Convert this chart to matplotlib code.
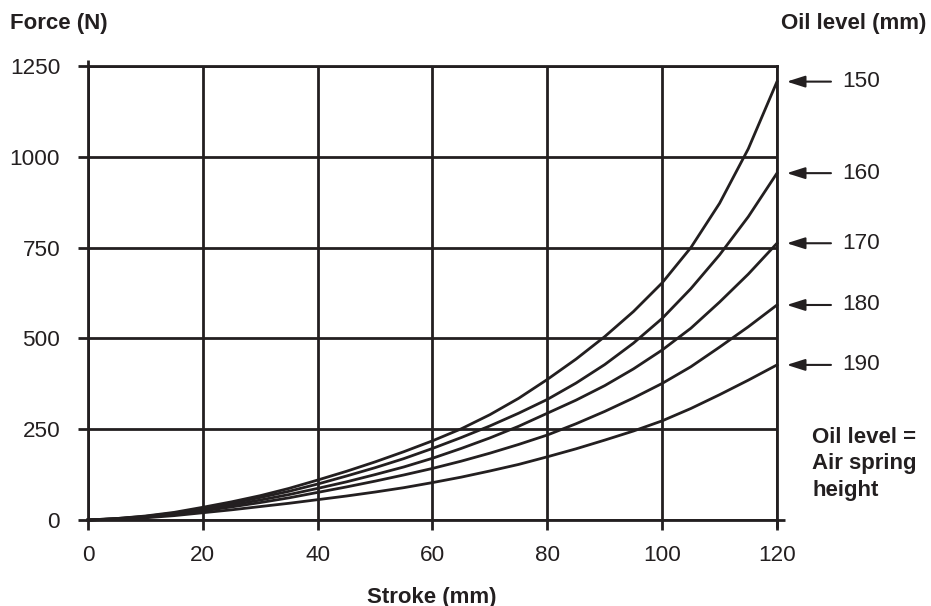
import matplotlib
matplotlib.use("Agg")
import matplotlib.pyplot as plt

plt.rcParams['font.family'] = ['Liberation Sans', 'DejaVu Sans']

stroke = [0, 5, 10, 15, 20, 25, 30, 35, 40, 45, 50, 55, 60, 65, 70, 75, 80,
          85, 90, 95, 100, 105, 110, 115, 120]
force_150 = [0, 4, 11, 21, 35, 50, 67, 87, 110, 134, 160, 188, 218, 251, 290,
             335, 387, 443, 505, 574, 653, 750, 872, 1022, 1207]
force_160 = [0, 4, 10, 19, 32, 46, 62, 79, 99, 121, 144, 169, 197, 227, 259,
             294, 332, 377, 428, 487, 555, 637, 730, 835, 955]
force_170 = [0, 3, 9, 17, 29, 41, 55, 70, 87, 105, 125, 146, 170, 197, 226,
             258, 294, 330, 370, 416, 468, 528, 600, 677, 762]
force_180 = [0, 3, 8, 15, 25, 36, 48, 61, 76, 91, 107, 124, 142, 162, 184,
             208, 234, 265, 299, 336, 376, 422, 476, 532, 592]
force_190 = [0, 2, 6, 12, 20, 28, 37, 46, 56, 66, 77, 89, 103, 118, 135,
             153, 174, 196, 220, 245, 273, 307, 345, 385, 427]
oil_levels = ["150", "160", "170", "180", "190"]
series = [force_150, force_160, force_170, force_180, force_190]

xticks = [0, 20, 40, 60, 80, 100, 120]
yticks = [0, 250, 500, 750, 1000, 1250]

C = "#231f20"

fig = plt.figure(figsize=(9.31, 6.06), dpi=100)
ax = fig.add_axes([88/931, 1 - 520/606, (777-88)/931, (520-66)/606])
ax.set_xlim(0, 120)
ax.set_ylim(0, 1250)
ax.set_xticks(xticks)
ax.set_yticks(yticks)
ax.set_xticklabels([str(v) for v in xticks])
ax.set_yticklabels([str(v) for v in yticks])
ax.tick_params(direction='out', length=7, width=2, color=C, labelsize=16.2,
               labelcolor=C)
ax.tick_params(axis='x', pad=11)
ax.tick_params(axis='y', pad=13)
ax.grid(True, color=C, linewidth=2)
for s in ['left', 'bottom', 'right', 'top']:
    ax.spines[s].set_color(C)
    ax.spines[s].set_linewidth(2)

# small extensions beyond the frame
ax.plot([0, 0], [1250, 1267], color=C, lw=2, clip_on=False, solid_capstyle='butt')
ax.plot([120, 121.4], [0, 0], color=C, lw=2, clip_on=False, solid_capstyle='butt')
ax.plot([120, 120], [0, -22], color=C, lw=2, clip_on=False, solid_capstyle='butt')

for lvl, vals in zip(oil_levels, series):
    ax.plot(stroke, vals, color=C, lw=2, clip_on=False, zorder=4)
    yend = vals[-1]
    ax.annotate("", xy=(121.7, yend), xytext=(129.4, yend),
                xycoords='data', textcoords='data',
                arrowprops=dict(arrowstyle='-|>,head_length=1.1,head_width=0.35',
                                color=C, lw=1.5, shrinkA=0, shrinkB=0),
                annotation_clip=False)
    ax.text(131.3, yend, lvl, ha='left', va='center', fontsize=16.2, color=C,
            clip_on=False)

fig.text(10/931, 1 - 23/606, "Force (N)", ha='left', va='center',
         fontsize=16, fontweight='bold', color=C)
fig.text(926/931, 1 - 23/606, "Oil level (mm)", ha='right', va='center',
         fontsize=16, fontweight='bold', color=C)
fig.text(432/931, 1 - 597/606, "Stroke (mm)", ha='center', va='center',
         fontsize=16, fontweight='bold', color=C)
fig.text(812/931, 1 - 464/606, "Oil level =\nAir spring\nheight", ha='left',
         va='center', fontsize=16, fontweight='bold', color=C, linespacing=1.36)

fig.savefig("out.png", dpi=100)
